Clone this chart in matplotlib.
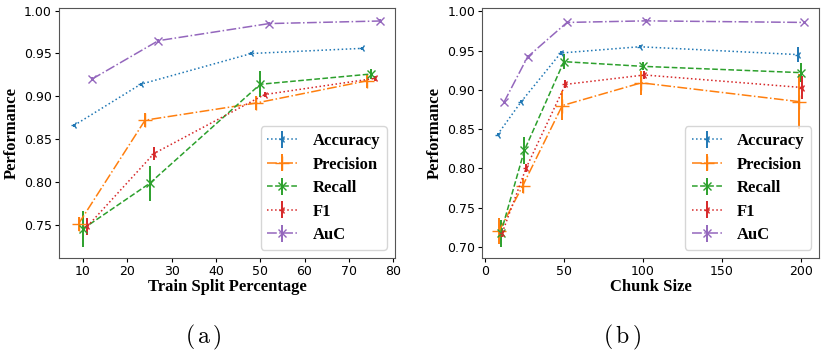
import matplotlib
matplotlib.use("Agg")
import matplotlib.pyplot as plt
import numpy as np

metrics = ["Accuracy", "Precision", "Recall", "F1", "AuC"]
colors = ["#1f77b4", "#ff7f0e", "#2ca02c", "#d62728", "#9467bd"]
styles = [":", "-.", "--", ":", "-."]
markers = ["3", "+", "x", "3", "x"]
msizes = [5, 10, 6, 5, 6]
offsets = [-2, -1, 0, 1, 2]

# (a) Train split percentage
split_x = [10, 25, 50, 75]
split_vals = {
    "Accuracy": [0.866, 0.914, 0.950, 0.956],
    "Precision": [0.751, 0.872, 0.892, 0.918],
    "Recall": [0.745, 0.798, 0.914, 0.926],
    "F1": [0.748, 0.833, 0.902, 0.921],
    "AuC": [0.920, 0.965, 0.985, 0.988],
}
split_err = {
    "Accuracy": [0.002, 0.002, 0.002, 0.002],
    "Precision": [0.008, 0.008, 0.008, 0.008],
    "Recall": [0.021, 0.020, 0.015, 0.006],
    "F1": [0.010, 0.008, 0.003, 0.003],
    "AuC": [0.002, 0.002, 0.002, 0.002],
}

# (b) Chunk size
chunk_x = [10, 25, 50, 100, 200]
chunk_vals = {
    "Accuracy": [0.843, 0.885, 0.947, 0.955, 0.945],
    "Precision": [0.720, 0.778, 0.880, 0.909, 0.885],
    "Recall": [0.717, 0.823, 0.936, 0.930, 0.922],
    "F1": [0.718, 0.800, 0.907, 0.919, 0.903],
    "AuC": [0.884, 0.942, 0.986, 0.988, 0.986],
}
chunk_err = {
    "Accuracy": [0.002, 0.002, 0.003, 0.002, 0.010],
    "Precision": [0.017, 0.010, 0.018, 0.015, 0.035],
    "Recall": [0.017, 0.017, 0.010, 0.005, 0.012],
    "F1": [0.005, 0.005, 0.005, 0.005, 0.015],
    "AuC": [0.002, 0.002, 0.002, 0.002, 0.002],
}

plt.rcParams["mathtext.fontset"] = "cm"
fig = plt.figure(figsize=(8.3, 3.6), dpi=100)
ax1 = fig.add_axes([0.071, 0.283, 0.405, 0.695])
ax2 = fig.add_axes([0.581, 0.283, 0.406, 0.695])

serif_bold = dict(family="Liberation Serif", weight="bold", size=12)

def draw(ax, xs, vals, errs, xlabel, yticks):
    for i, m in enumerate(metrics):
        x = np.array(xs) + offsets[i]
        ax.errorbar(x, vals[m], yerr=errs[m], color=colors[i], linestyle=styles[i],
                    marker=markers[i], markersize=msizes[i], linewidth=1.1,
                    elinewidth=1.4, ecolor=colors[i], label=m)
    ax.set_xlabel(xlabel, fontdict=serif_bold, labelpad=1)
    ax.set_ylabel("Performance", fontdict=serif_bold, labelpad=3)
    ax.set_yticks(yticks)
    ax.tick_params(labelsize=9, length=3, pad=2)
    for s in ax.spines.values():
        s.set_color("#555555")
    ax.legend(loc="lower right", prop=dict(family="Liberation Serif", weight="bold", size=12),
              handlelength=1.8, labelspacing=0.45, borderpad=0.4, handletextpad=0.9)

draw(ax1, split_x, split_vals, split_err, "Train Split Percentage",
     [0.75, 0.80, 0.85, 0.90, 0.95, 1.00])
draw(ax2, chunk_x, chunk_vals, chunk_err, "Chunk Size",
     [0.70, 0.75, 0.80, 0.85, 0.90, 0.95, 1.00])
ax1.set_xticks([10, 20, 30, 40, 50, 60, 70, 80])
ax2.set_xticks([0, 50, 100, 150, 200])

fig.text(0.245, 0.064, r"$\mathrm{(\,a\,)}$", ha="center", va="center", size=17)
fig.text(0.749, 0.064, r"$\mathrm{(\,b\,)}$", ha="center", va="center", size=17)

fig.savefig("out.png", dpi=100)
